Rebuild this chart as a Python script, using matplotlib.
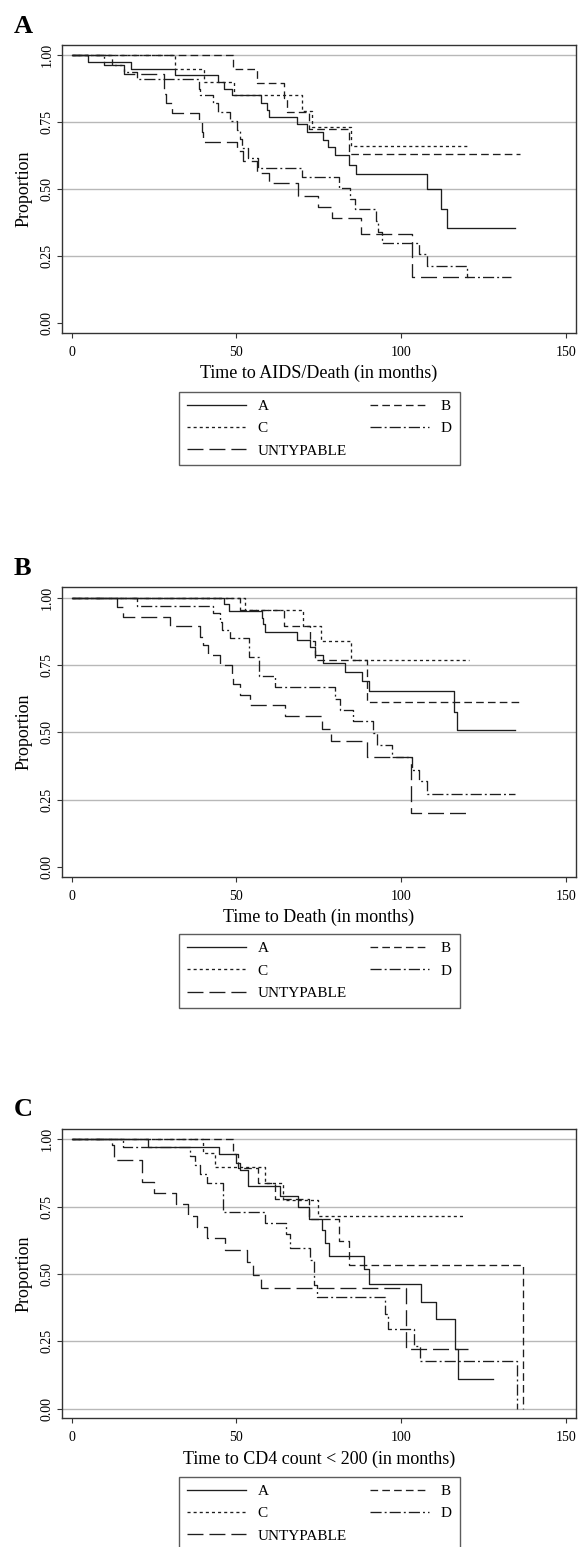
import matplotlib
matplotlib.use("Agg")
import matplotlib.pyplot as plt

plt.rcParams['font.family'] = ['Liberation Serif', 'DejaVu Serif']
plt.rcParams['lines.scale_dashes'] = False

# ---- panel A: Time to AIDS/Death ----
a_time_A = [0, 4.8, 18.0, 31.4, 44.5, 46.1, 48.8, 57.5, 59.2, 60.0, 68.3, 71.5, 76.4, 77.9, 79.8, 84.3, 86.3, 107.8, 112.1, 113.9, 134.6]
a_surv_A = [1, 0.975, 0.950, 0.926, 0.900, 0.875, 0.850, 0.822, 0.796, 0.770, 0.744, 0.715, 0.685, 0.656, 0.627, 0.592, 0.558, 0.501, 0.428, 0.357, 0.357]
a_time_B = [0, 48.9, 56.2, 64.5, 65.5, 72.0, 84.3, 136.1]
a_surv_B = [1, 0.947, 0.895, 0.842, 0.787, 0.724, 0.633, 0.633]
a_time_C = [0, 31.5, 40.1, 49.2, 70.0, 73.0, 84.9, 120.4]
a_surv_C = [1, 0.949, 0.901, 0.850, 0.792, 0.734, 0.662, 0.662]
a_time_D = [0, 9.9, 15.8, 19.8, 38.5, 39.0, 43.0, 44.5, 48.1, 50.3, 51.1, 51.6, 53.6, 56.7, 69.8, 81.0, 84.5, 86.0, 92.4, 93.1, 94.1, 105.3, 107.8, 119.9, 133.3]
a_surv_D = [1, 0.964, 0.937, 0.910, 0.873, 0.851, 0.820, 0.790, 0.756, 0.722, 0.688, 0.653, 0.616, 0.581, 0.544, 0.505, 0.464, 0.427, 0.381, 0.340, 0.298, 0.257, 0.214, 0.173, 0.173]
a_time_U = [0, 12.2, 16.0, 27.9, 28.1, 28.6, 30.4, 38.5, 39.5, 40.0, 50.3, 52.0, 56.2, 60.0, 68.8, 74.9, 79.0, 87.8, 103.2, 120.3]
a_surv_U = [1, 0.964, 0.929, 0.893, 0.857, 0.822, 0.786, 0.750, 0.715, 0.678, 0.641, 0.604, 0.561, 0.523, 0.476, 0.434, 0.391, 0.335, 0.171, 0.171]

# ---- panel B: Time to Death ----
b_time_A = [0, 46.1, 47.9, 57.7, 58.2, 58.7, 68.3, 72.4, 73.9, 76.4, 83.0, 88.1, 90.4, 116.2, 116.9, 134.6]
b_surv_A = [1, 0.975, 0.950, 0.925, 0.900, 0.873, 0.842, 0.815, 0.787, 0.758, 0.725, 0.690, 0.652, 0.575, 0.507, 0.507]
b_time_B = [0, 51.1, 64.5, 72.4, 74.0, 89.6, 136.1]
b_surv_B = [1, 0.952, 0.896, 0.840, 0.767, 0.612, 0.612]
b_time_C = [0, 52.6, 70.1, 75.7, 84.8, 120.7]
b_surv_C = [1, 0.952, 0.896, 0.840, 0.770, 0.770]
b_time_D = [0, 19.7, 43.0, 45.0, 45.5, 48.1, 53.9, 57.0, 61.7, 80.0, 81.3, 85.5, 91.4, 92.6, 97.2, 103.2, 105.3, 107.8, 134.6]
b_surv_D = [1, 0.969, 0.942, 0.911, 0.880, 0.848, 0.778, 0.708, 0.668, 0.625, 0.584, 0.542, 0.497, 0.453, 0.407, 0.360, 0.318, 0.271, 0.271]
b_time_U = [0, 13.9, 15.7, 29.9, 39.0, 39.8, 41.3, 45.0, 48.6, 49.1, 51.1, 54.1, 64.8, 75.9, 78.7, 89.6, 103.0, 119.9]
b_surv_U = [1, 0.966, 0.929, 0.894, 0.855, 0.824, 0.786, 0.749, 0.712, 0.678, 0.640, 0.602, 0.560, 0.513, 0.466, 0.407, 0.202, 0.202]

# ---- panel C: Time to CD4 count < 200 ----
c_time_A = [0, 23.3, 44.8, 49.9, 51.1, 53.4, 63.3, 68.8, 71.9, 75.9, 77.0, 78.0, 88.6, 90.4, 106.0, 110.6, 116.4, 117.4, 128.0]
c_surv_A = [1, 0.973, 0.944, 0.913, 0.886, 0.827, 0.791, 0.750, 0.703, 0.663, 0.613, 0.566, 0.517, 0.462, 0.397, 0.331, 0.223, 0.109, 0.109]
c_time_B = [0, 48.9, 50.4, 56.7, 61.8, 72.0, 81.0, 84.3, 137.1]
c_surv_B = [1, 0.946, 0.892, 0.836, 0.778, 0.703, 0.623, 0.533, 0.0]
c_time_C = [0, 40.0, 43.5, 58.7, 64.1, 74.9, 119.2]
c_surv_C = [1, 0.948, 0.896, 0.836, 0.775, 0.715, 0.715]
c_time_D = [0, 15.5, 35.9, 37.4, 39.0, 41.0, 45.9, 58.7, 65.1, 66.3, 72.4, 73.6, 74.6, 95.1, 95.9, 104.0, 105.8, 135.3]
c_surv_D = [1, 0.970, 0.937, 0.903, 0.870, 0.836, 0.731, 0.690, 0.648, 0.595, 0.551, 0.458, 0.415, 0.353, 0.297, 0.232, 0.176, 0.0]
c_time_U = [0, 12.1, 12.7, 21.3, 25.1, 31.7, 35.2, 38.0, 41.0, 46.4, 53.1, 55.0, 57.5, 101.5, 120.4]
c_surv_U = [1, 0.980, 0.923, 0.843, 0.802, 0.760, 0.715, 0.675, 0.632, 0.589, 0.545, 0.496, 0.446, 0.223, 0.223]

groups = ["A", "B", "C", "D", "UNTYPABLE"]
panel_letters = ["A", "B", "C"]
xlabels = ["Time to AIDS/Death (in months)", "Time to Death (in months)", "Time to CD4 count < 200 (in months)"]
x_ticks = [0, 50, 100, 150]
y_ticks = [0.0, 0.25, 0.5, 0.75, 1.0]
y_ticklabels = ["0.00", "0.25", "0.50", "0.75", "1.00"]

panels = [
    [(a_time_A, a_surv_A), (a_time_B, a_surv_B), (a_time_C, a_surv_C), (a_time_D, a_surv_D), (a_time_U, a_surv_U)],
    [(b_time_A, b_surv_A), (b_time_B, b_surv_B), (b_time_C, b_surv_C), (b_time_D, b_surv_D), (b_time_U, b_surv_U)],
    [(c_time_A, c_surv_A), (c_time_B, c_surv_B), (c_time_C, c_surv_C), (c_time_D, c_surv_D), (c_time_U, c_surv_U)],
]

dash_styles = ['-', (0, (5.5, 3.0)), (0, (2.2, 2.2)), (0, (8, 2.2, 1.4, 2.2)), (0, (11.5, 4.3))]
line_col = '#1e1e1e'

W, H = 579, 1547
fig = plt.figure(figsize=(W / 100, H / 100), dpi=100)

# axes boxes in pixels: (top, bottom)
ax_rows = [(45, 333), (587.3, 876.7), (1129, 1418.3)]
letter_base = [33.3, 575, 1116]
legend_top = [391.7, 934, 1476.7]
left, right = 61.7, 576

for i in range(3):
    top, bot = ax_rows[i]
    ax = fig.add_axes([left / W, 1 - bot / H, (right - left) / W, (bot - top) / H])
    ax.set_xlim(-3.04, 153.1)
    ax.set_ylim(-0.036, 1.038)

    grid_vals = y_ticks[1:] if i < 2 else y_ticks
    for g in grid_vals:
        ax.axhline(g, color='#b8b8b8', lw=1.0, zorder=1)

    lines = []
    for k in range(5):
        t, s = panels[i][k]
        ln, = ax.step(t, s, where='post', color=line_col, lw=0.95,
                      linestyle=dash_styles[k], label=groups[k], zorder=3)
        lines.append(ln)

    ax.set_xticks(x_ticks)
    ax.set_yticks(y_ticks)
    ax.set_yticklabels(y_ticklabels, rotation=90, va='center')
    ax.tick_params(direction='out', length=3.8, width=0.8, labelsize=10, color='#333333', pad=2)
    ax.tick_params(axis='x', pad=5.5)
    for sp in ax.spines.values():
        sp.set_color('#333333')
        sp.set_linewidth(1.0)
    ax.set_ylabel("Proportion", fontsize=13, labelpad=6)
    ax.set_xlabel(xlabels[i], fontsize=13, labelpad=4.5)

    fig.text(14 / W, 1 - letter_base[i] / H, panel_letters[i], fontsize=19,
             fontweight='bold', va='baseline', ha='left')

    order = [0, 2, 4, 1, 3]
    leg = ax.legend([lines[j] for j in order], [groups[j] for j in order],
                    ncol=2, loc='upper center', bbox_to_anchor=(319.3 / W, 1 - legend_top[i] / H),
                    bbox_transform=fig.transFigure, fontsize=11, frameon=True, fancybox=False,
                    handlelength=3.9, handletextpad=0.75, columnspacing=1.5,
                    labelspacing=0.57, borderpad=0.5, borderaxespad=0)
    leg.get_frame().set_edgecolor('#333333')
    leg.get_frame().set_linewidth(1.0)

fig.savefig("out.png", dpi=100)
